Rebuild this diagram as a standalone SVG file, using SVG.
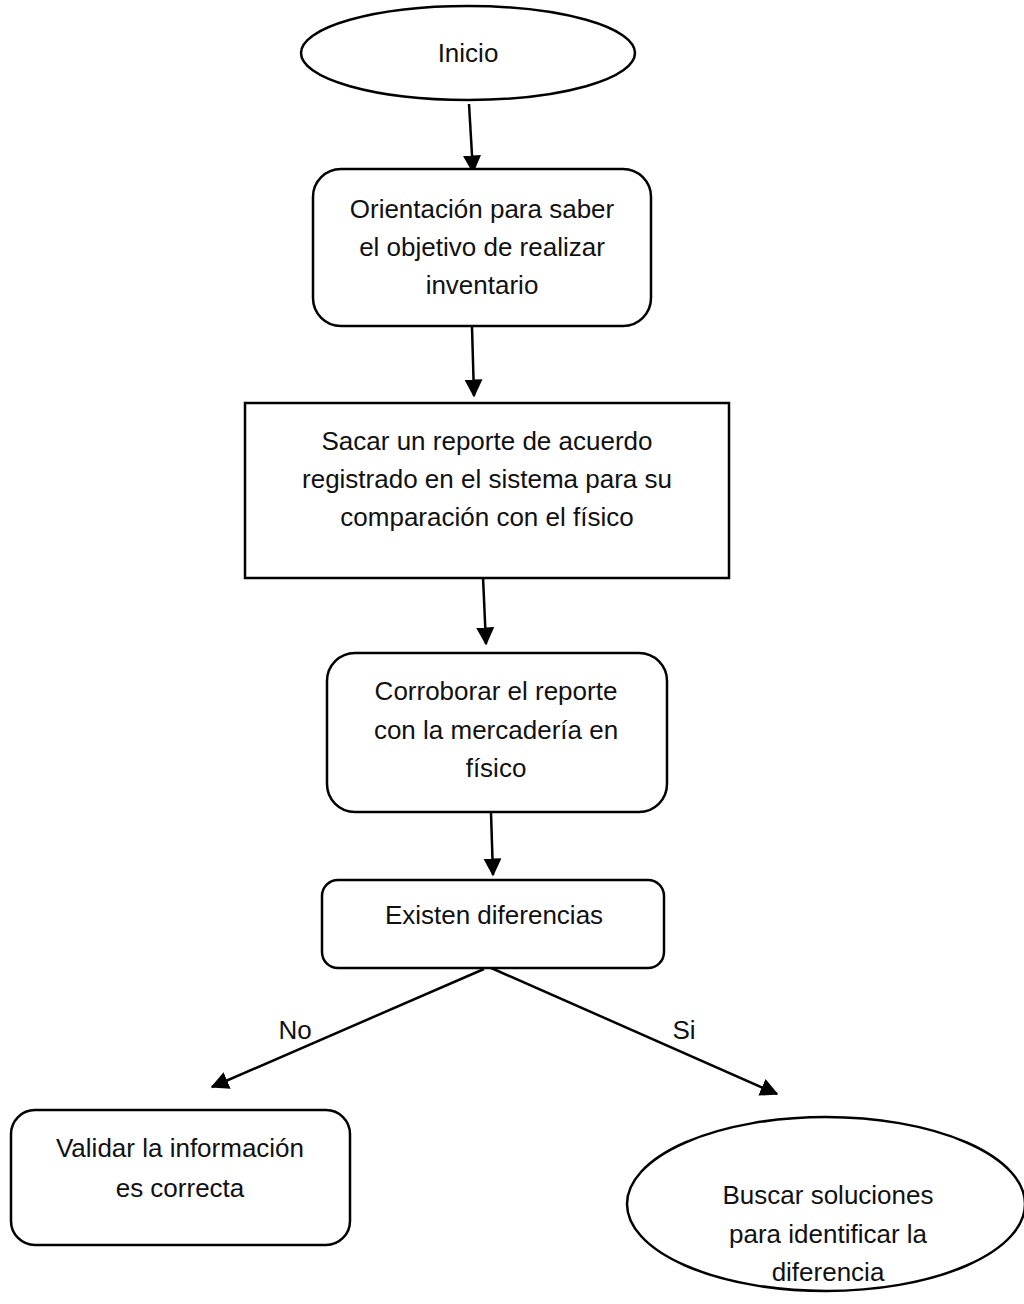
<svg xmlns="http://www.w3.org/2000/svg" width="1024" height="1304" viewBox="0 0 1024 1304">
  <style>
    .shape { fill: #ffffff; stroke: #000000; stroke-width: 2.5; }
    .edge { fill: none; stroke: #000000; stroke-width: 2.5; }
    .label { font-family: "Liberation Sans", Arial, sans-serif; font-size: 26px; fill: #111111; text-anchor: middle; }
  </style>
  <defs>
    <marker id="head" viewBox="0 0 12 12" refX="11" refY="6" markerWidth="18" markerHeight="18" markerUnits="userSpaceOnUse" orient="auto">
      <path d="M0,0 L12,6 L0,12 z" fill="#000000"/>
    </marker>
  </defs>

  <rect width="1024" height="1304" fill="#ffffff"/>

  <!-- connectors -->
  <g id="connectors">
    <line class="edge" x1="469" y1="104" x2="473" y2="172" marker-end="url(#head)"/>
    <line class="edge" x1="472" y1="327" x2="474" y2="396" marker-end="url(#head)"/>
    <line class="edge" x1="483" y1="577" x2="486" y2="644" marker-end="url(#head)"/>
    <line class="edge" x1="491" y1="813" x2="493" y2="875" marker-end="url(#head)"/>
    <line class="edge" x1="484" y1="969" x2="212" y2="1087" marker-end="url(#head)"/>
    <line class="edge" x1="489" y1="967" x2="777" y2="1094" marker-end="url(#head)"/>
    <text class="label" x="295" y="1039">No</text>
    <text class="label" x="684" y="1039">Si</text>
  </g>

  <!-- start -->
  <g id="inicio">
    <ellipse class="shape" cx="468" cy="53" rx="167" ry="47"/>
    <text class="label" x="468" y="62">Inicio</text>
  </g>

  <g id="orientacion">
    <rect class="shape" x="313" y="169" width="338" height="157" rx="28" ry="28"/>
    <text class="label" x="482" y="218">Orientación para saber</text>
    <text class="label" x="482" y="256">el objetivo de realizar</text>
    <text class="label" x="482" y="294">inventario</text>
  </g>

  <g id="reporte">
    <rect class="shape" x="245" y="403" width="484" height="175"/>
    <text class="label" x="487" y="450">Sacar un reporte de acuerdo</text>
    <text class="label" x="487" y="488">registrado en el sistema para su</text>
    <text class="label" x="487" y="526">comparación con el físico</text>
  </g>

  <g id="corroborar">
    <rect class="shape" x="327" y="653" width="340" height="159" rx="28" ry="28"/>
    <text class="label" x="496" y="700">Corroborar el reporte</text>
    <text class="label" x="496" y="739">con la mercadería en</text>
    <text class="label" x="496" y="777">físico</text>
  </g>

  <g id="diferencias">
    <rect class="shape" x="322" y="880" width="342" height="88" rx="16" ry="16"/>
    <text class="label" x="494" y="924">Existen diferencias</text>
  </g>

  <g id="validar">
    <rect class="shape" x="11" y="1110" width="339" height="135" rx="24" ry="24"/>
    <text class="label" x="180" y="1157">Validar la información</text>
    <text class="label" x="180" y="1197">es correcta</text>
  </g>

  <g id="buscar">
    <ellipse class="shape" cx="826" cy="1204" rx="199" ry="87"/>
    <text class="label" x="828" y="1204">Buscar soluciones</text>
    <text class="label" x="828" y="1243">para identificar la</text>
    <text class="label" x="828" y="1281">diferencia</text>
  </g>
</svg>
